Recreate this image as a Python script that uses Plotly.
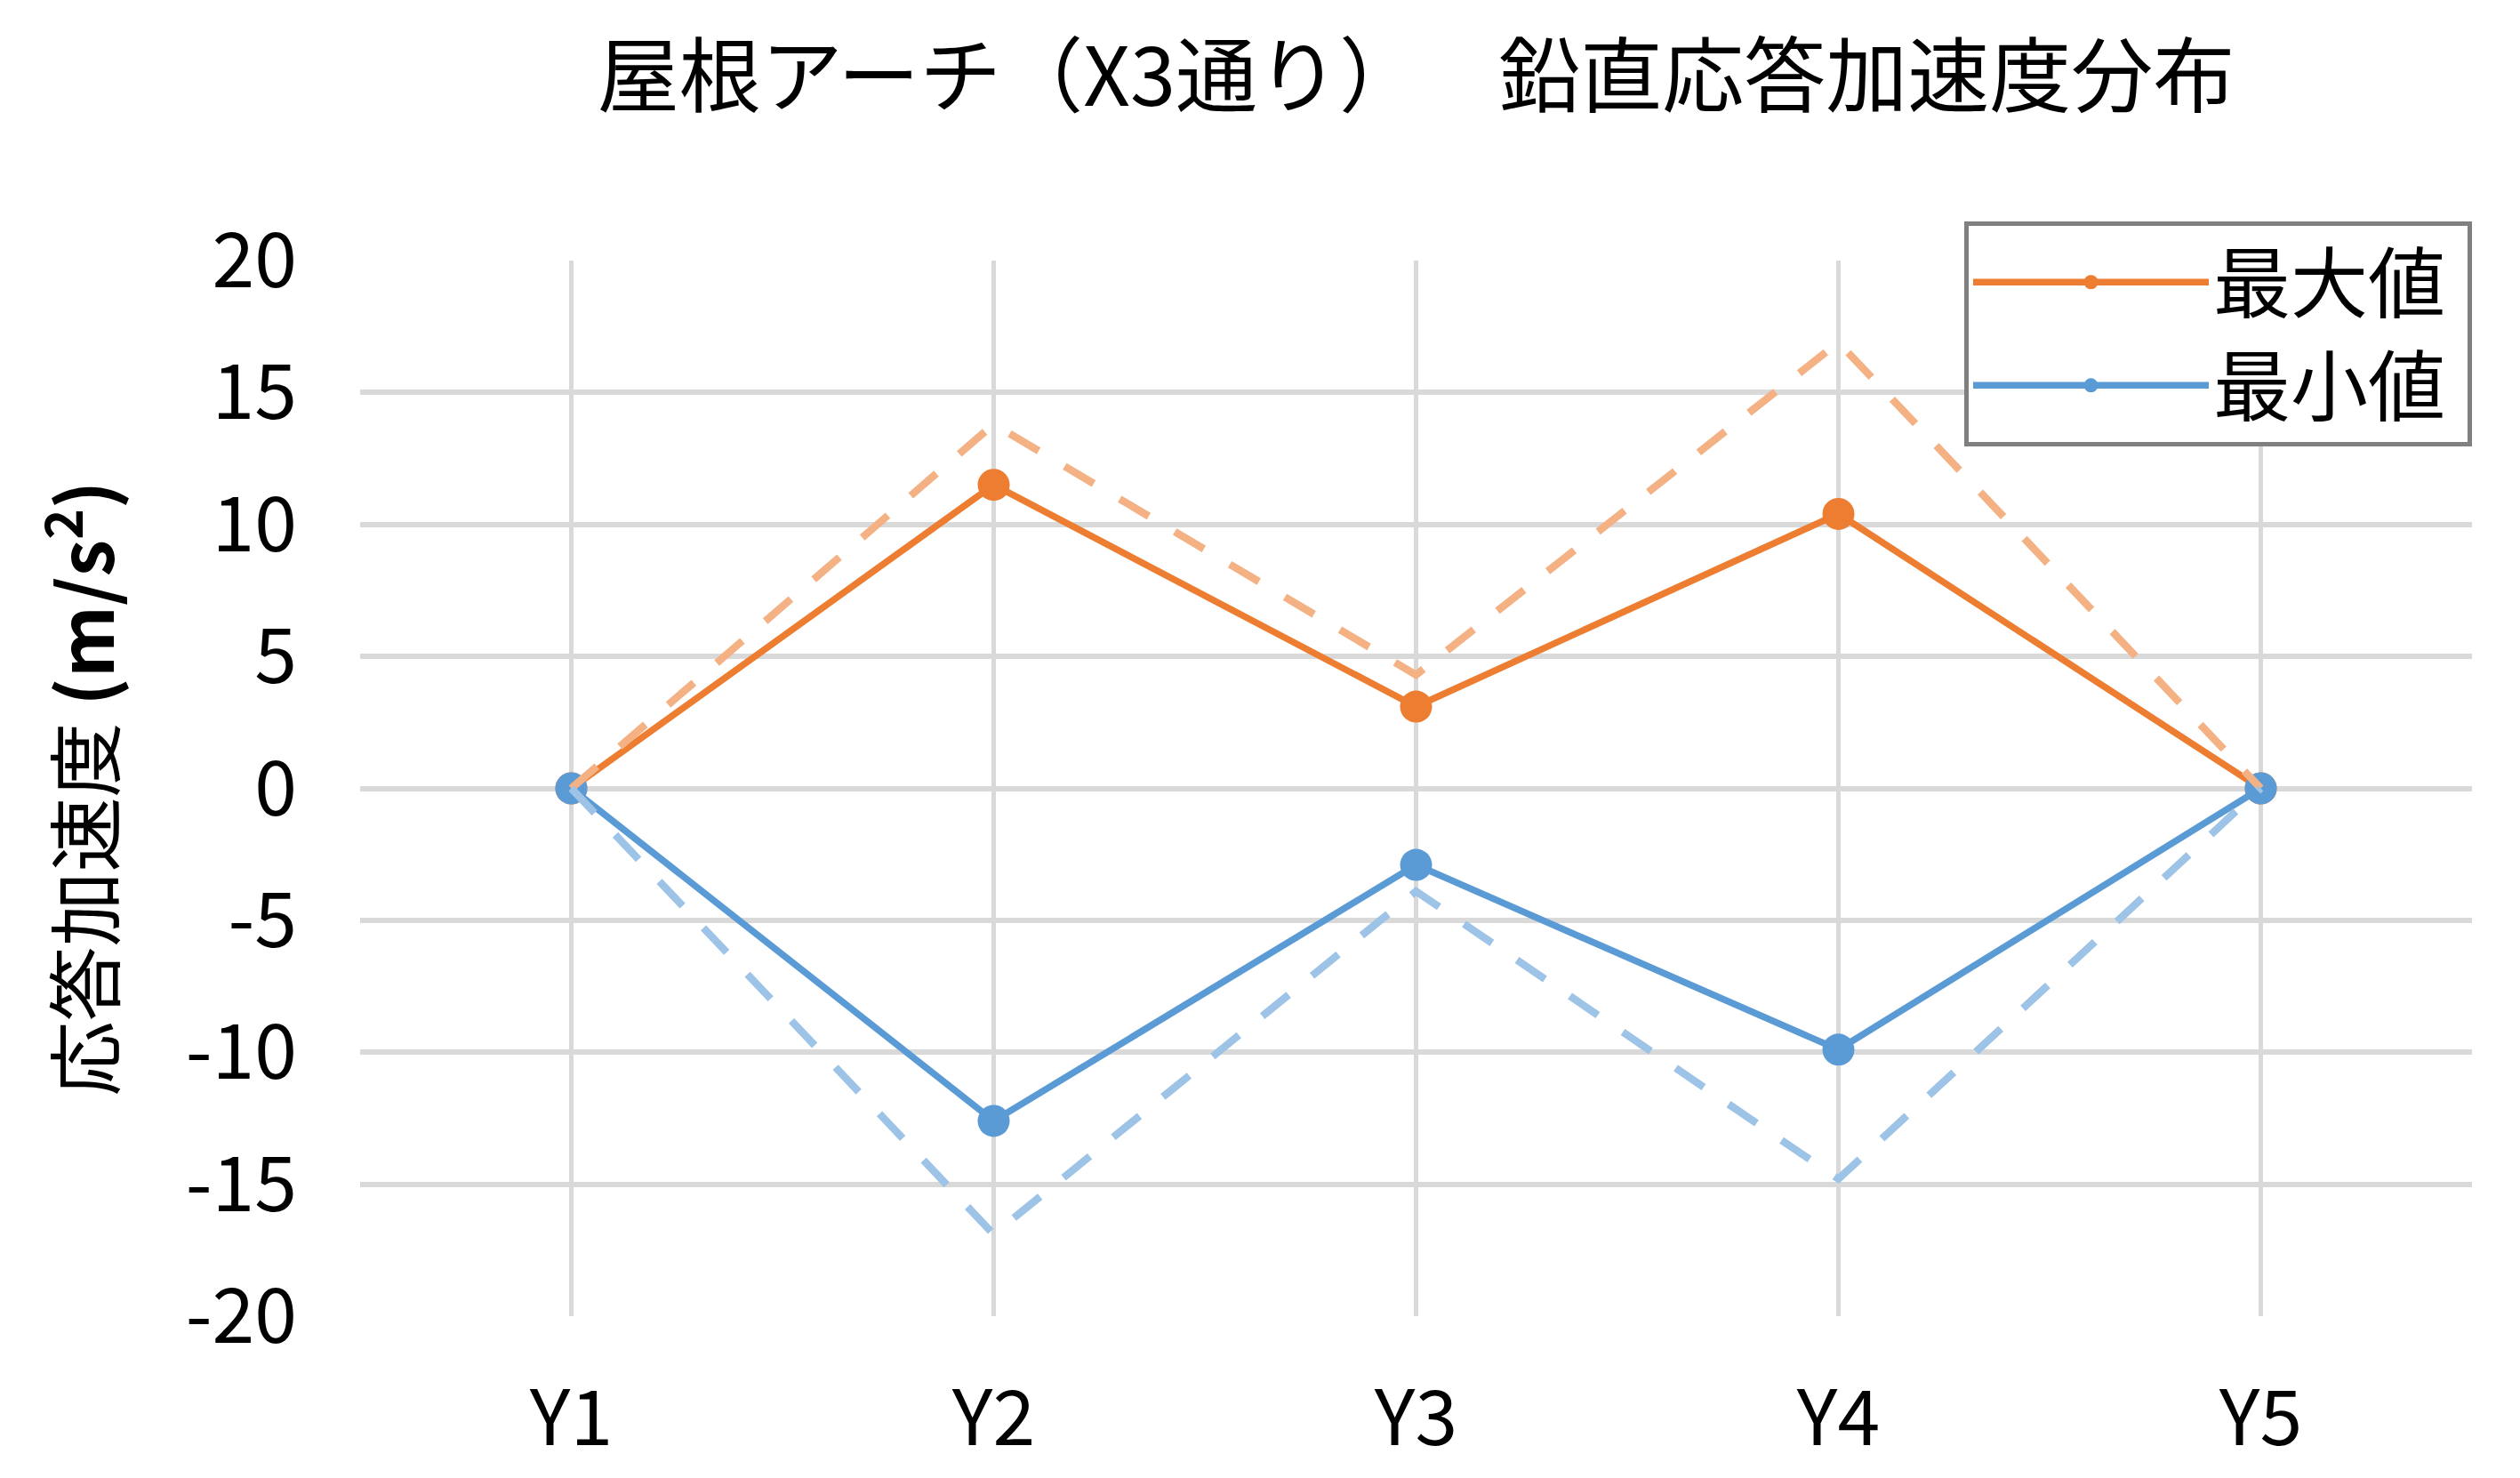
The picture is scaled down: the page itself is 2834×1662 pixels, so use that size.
import plotly.graph_objects as go

# ---- data ----
categories = ["Y1", "Y2", "Y3", "Y4", "Y5"]
max_values = [0, 11.5, 3.1, 10.4, 0]
min_values = [0, -12.6, -2.9, -9.9, 0]
max_envelope = [0, 13.8, 4.3, 16.9, 0]
min_envelope = [0, -16.9, -3.9, -14.8, 0]
y_ticks = [20, 15, 10, 5, 0, -5, -10, -15, -20]
y_tick_labels = ["20", "15", "10", "5", "0", "-5", "-10", "-15", "-20"]

title_text = "屋根アーチ（X3通り）　\u00a0\u00a0鉛直応答加速度分布"
y_title = "応答加速度 <b>(m/s<sup>2</sup>)</b>"
name_max = "最大値\u00a0"
name_min = "最小値\u00a0"

FONT = "Noto Sans CJK JP"
ORANGE = "#ED7D31"
BLUE = "#5B9BD5"
ORANGE_L = "#F4B183"
BLUE_L = "#9DC3E6"
GRID = "#D9D9D9"

W, H = 2834, 1662
L, R, T, B = 405, 54, 293, 176

fig = go.Figure()

fig.add_trace(go.Scatter(
    x=categories, y=max_values, name=name_max, mode="lines+markers",
    line=dict(color=ORANGE, width=7.5), marker=dict(color=ORANGE, size=36),
))
fig.add_trace(go.Scatter(
    x=categories, y=min_values, name=name_min, mode="lines+markers",
    line=dict(color=BLUE, width=7.5), marker=dict(color=BLUE, size=36),
))
fig.add_trace(go.Scatter(
    x=categories, y=max_envelope, mode="lines", showlegend=False,
    line=dict(color=ORANGE_L, width=8.5, dash="38px,34px"),
))
fig.add_trace(go.Scatter(
    x=categories, y=min_envelope, mode="lines", showlegend=False,
    line=dict(color=BLUE_L, width=8.5, dash="38px,34px"),
))

fig.update_layout(
    width=W, height=H,
    margin=dict(l=L, r=R, t=T, b=B),
    paper_bgcolor="white", plot_bgcolor="white",
    font=dict(family=FONT, color="black"),
    title=dict(
        text=title_text, font=dict(size=92, family=FONT, color="black"),
        x=0.5, xref="paper", xanchor="center",
        y=1 - 87 / H, yref="container", yanchor="middle",
    ),
    legend=dict(
        x=1.0, xanchor="right", y=1 + 44 / (H - T - B), yanchor="top",
        bgcolor="white", bordercolor="#808080", borderwidth=5,
        font=dict(size=87, family=FONT, color="black"),
        itemwidth=265,
    ),
    showlegend=True,
)

fig.update_xaxes(
    type="category", range=[-0.5, 4.5],
    showgrid=True, gridcolor=GRID, gridwidth=5,
    showline=False, zeroline=False, ticks="",
    tickfont=dict(size=86, family=FONT, color="black"),
    ticklabelstandoff=58,
)
fig.update_yaxes(
    range=[-20, 20], tickvals=y_ticks, ticktext=y_tick_labels,
    showgrid=True, gridcolor=GRID, gridwidth=5.5,
    zeroline=False, showline=False, ticks="",
    tickfont=dict(size=86, family=FONT, color="black"),
    ticklabelstandoff=70,
)

fig.add_annotation(
    text=y_title, textangle=-90,
    xref="paper", yref="paper", x=(88 - L) / (W - L - R), y=0.5,
    xanchor="center", yanchor="middle", showarrow=False,
    font=dict(size=84, family=FONT, color="black"),
)

fig.write_html("out.html")
